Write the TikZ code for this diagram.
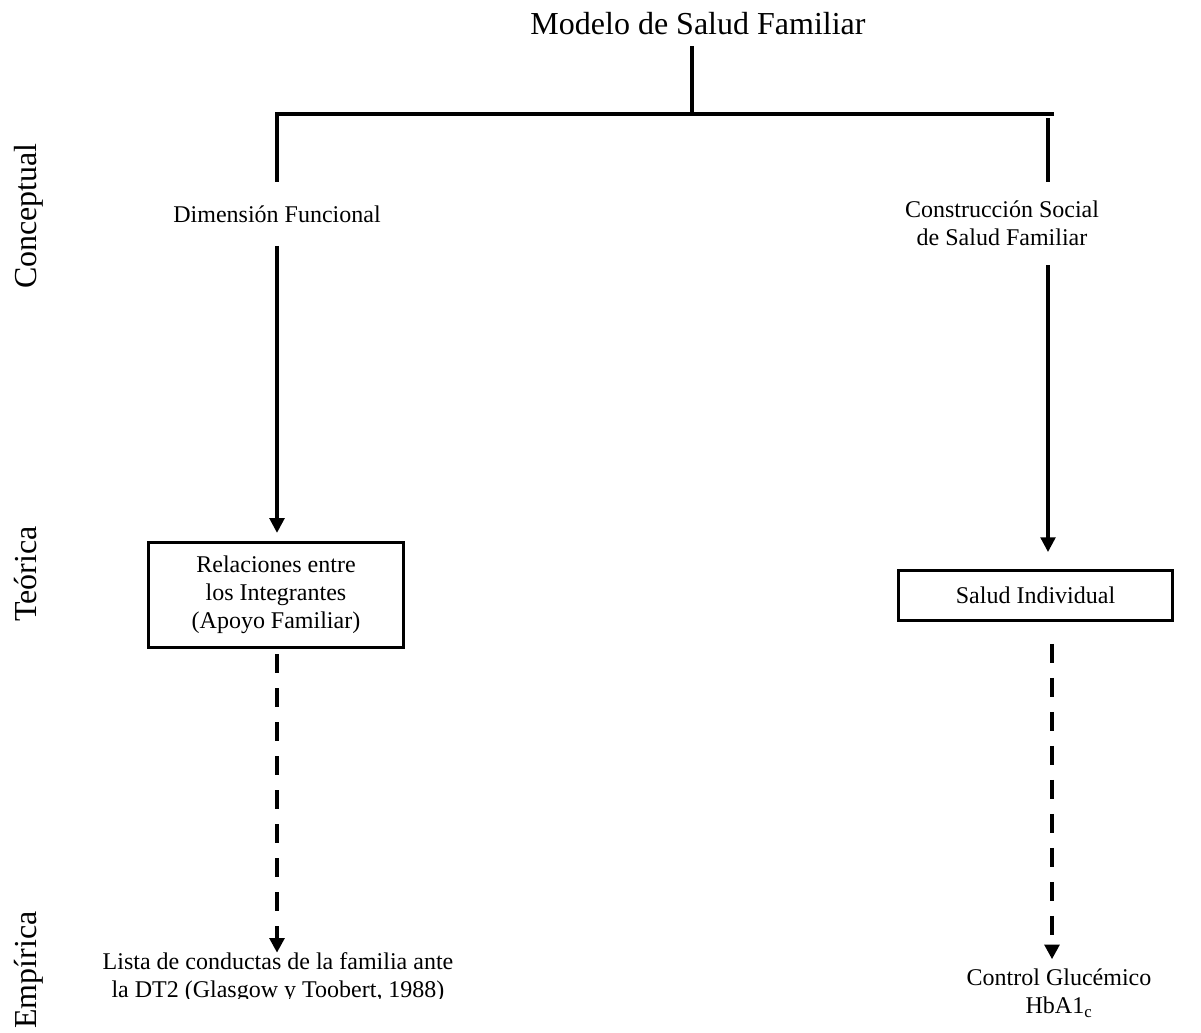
\documentclass[tikz,border=0pt]{standalone}
\usepackage{fontspec}
\setmainfont{Liberation Serif}
\usetikzlibrary{arrows.meta,calc}
\begin{document}
\begin{tikzpicture}[x=0.75pt,y=-0.75pt,
  conn/.style={line width=2.4pt},
  arr/.style={conn,-{Triangle[width=11pt,length=11pt]}},
  darr/.style={line width=3.6pt,dash pattern=on 14.25pt off 11.25pt,-{Triangle[width=11pt,length=11pt]}},
  txt/.style={font=\fontsize{18}{21}\selectfont,align=center,inner sep=0pt},
  boxed/.style={txt,draw,line width=2.2pt},
  lvl/.style={font=\fontsize{24}{28}\selectfont,rotate=90,anchor=base,inner sep=0pt},
  ttl/.style={font=\fontsize{24}{28}\selectfont,inner sep=0pt,anchor=base}]
\useasboundingbox (0,0) rectangle (1201,1032);

% level labels
\node[lvl] (conc) at (36,216) {Conceptual};
\node[lvl] (teor) at (36,574) {Teórica};
\node[lvl] (empi) at (36,970) {Empírica};

% title and tree
\node[ttl] (title) at (698,34) {Modelo de Salud Familiar};
\coordinate (top) at (692,46);
\coordinate (stem) at (692,114);
\coordinate (hl) at (277,114);
\coordinate (hr) at (1054,114);
\coordinate (rtop) at (1048,118);
\coordinate (rd) at (1052,0);

\node[txt,minimum height=47.5pt] (dimf) at (277,214) {Dimensión Funcional};
\node[txt,minimum height=62.25pt] (consoc) at (1002,223.5) {Construcción Social\\de Salud Familiar};

\node[boxed,minimum width=191pt,minimum height=79pt] (rel) at (276,595) {Relaciones entre\\los Integrantes\\(Apoyo Familiar)};
\node[boxed,minimum width=206pt,minimum height=37.5pt] (salud) at (1035.5,595.5) {Salud Individual};

\begin{scope}
  \clip (90,930) rectangle (480,998);
  \node[txt] (lista) at (278,978) {Lista de conductas de la familia ante\\la DT2 (Glasgow y Toobert, 1988)};
\end{scope}
\node[txt] (control) at (1059,993) {Control Glucémico\\HbA1\textsubscript{c}};

% connectors
\draw[conn] (top) -- (stem);
\draw[conn] (hr) -- (hl) -- (dimf.north);
\draw[conn] (rtop) -- (rtop |- consoc.north);
\draw[arr,shorten >=6pt] (dimf.south) -- (dimf.south |- rel.north);
\draw[arr,shorten >=12.75pt] (rtop |- consoc.south) -- (rtop |- salud.north);
\draw[darr,shorten <=3.75pt] (dimf.south |- rel.south) -- (dimf.south |- lista.north);
\draw[darr,shorten <=16.5pt,shorten >=7pt] (salud.south -| rd) -- (control.north -| rd);
\end{tikzpicture}
\end{document}
